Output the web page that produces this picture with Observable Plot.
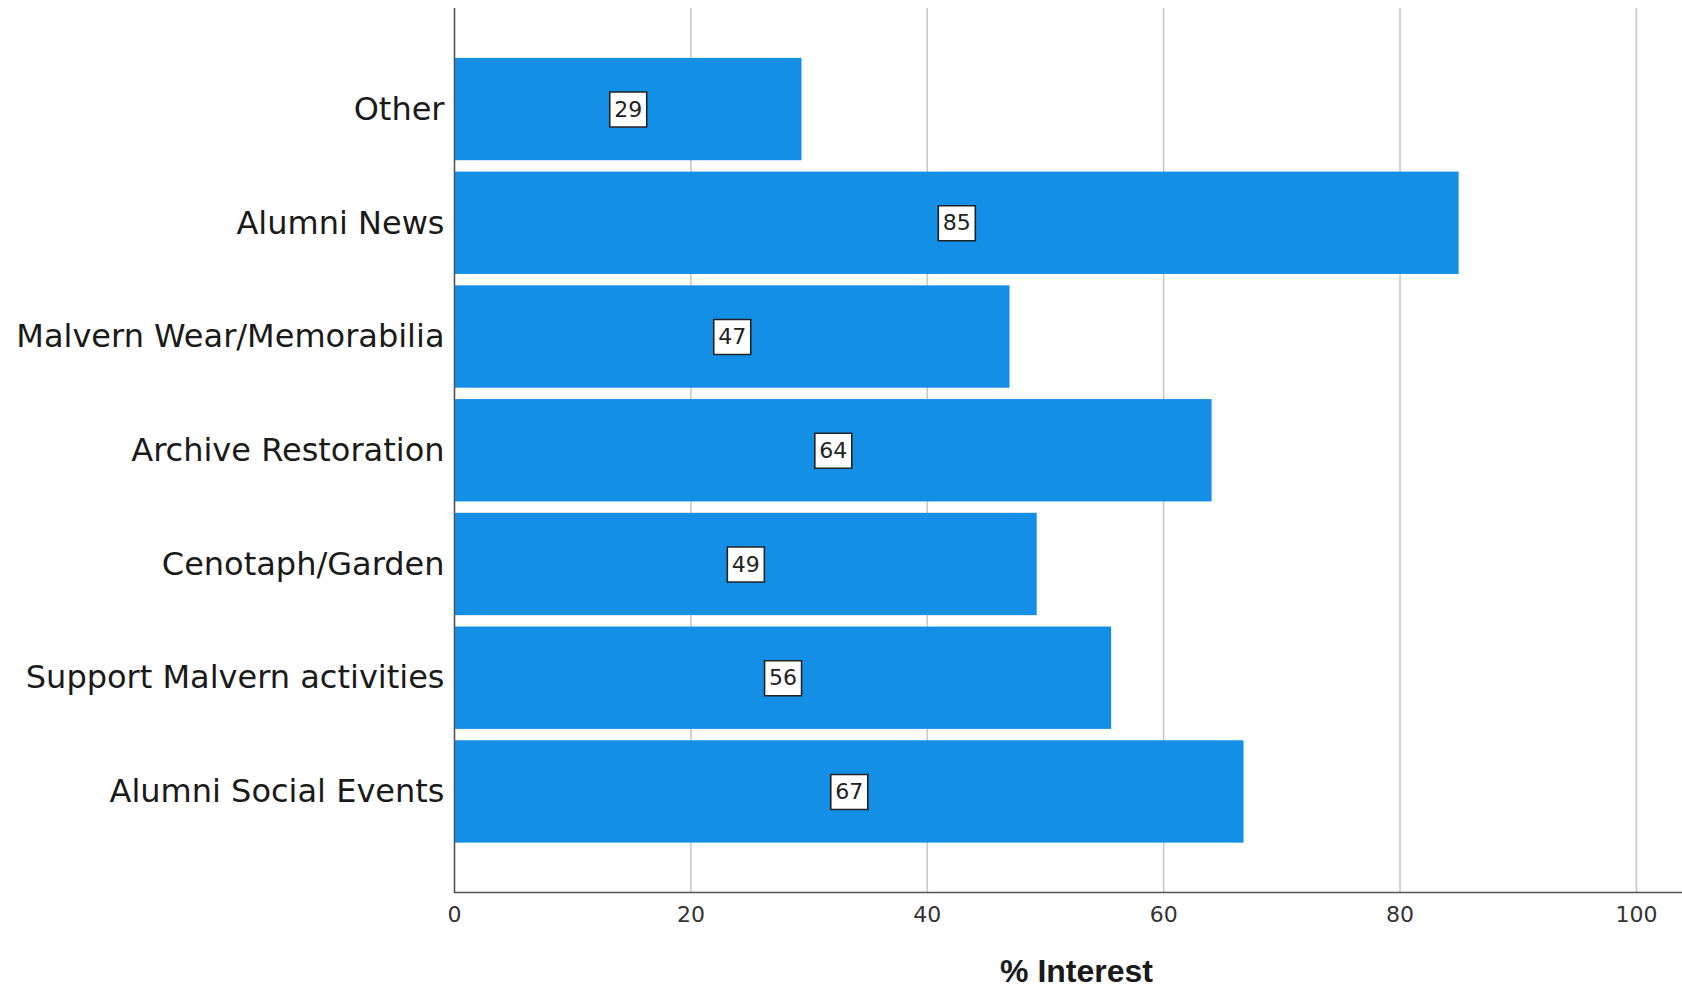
<!DOCTYPE html>
<html>
<head>
<meta charset="utf-8">
<script src="https://cdn.jsdelivr.net/npm/d3@7"></script>
<script src="https://cdn.jsdelivr.net/npm/@observablehq/plot@0.6"></script>
<style>
  html, body { margin: 0; padding: 0; background: #fff; overflow: hidden; }
</style>
</head>
<body>
<div id="chart"></div>
<script>
const categories = ["Other", "Alumni News", "Malvern Wear/Memorabilia", "Archive Restoration", "Cenotaph/Garden", "Support Malvern activities", "Alumni Social Events"];
const values = [29.4, 85.0, 47.0, 64.1, 49.3, 55.6, 66.8];
const valueLabels = ["29", "85", "47", "64", "49", "56", "67"];
const xTicks = [0, 20, 40, 60, 80, 100];
const gridTicks = [20, 40, 60, 80, 100];
const xTitle = "% Interest";

const data = categories.map((c, i) => ({category: c, value: values[i], label: valueLabels[i]}));

const boxSymbol = {
  draw(context) {
    const w = 18.5, h = 17.5;
    context.moveTo(-w, -h);
    context.lineTo(w, -h);
    context.lineTo(w, h);
    context.lineTo(-w, h);
    context.closePath();
  }
};

const chart = Plot.plot({
  width: 1682,
  height: 989,
  marginLeft: 454,
  marginRight: 0,
  marginTop: 8,
  marginBottom: 97,
  style: {fontFamily: "DejaVu Sans", background: "#fff", color: "#222"},
  x: {domain: [0, 103.9]},
  y: {domain: categories, padding: 0.1, round: false, insetTop: 38.5, insetBottom: 38},
  marks: [
    Plot.ruleX(gridTicks, {stroke: "#c9c9c9", strokeWidth: 1.6}),
    Plot.barX(data, {y: "category", x: "value", fill: "#1390e6"}),
    Plot.ruleX([0], {stroke: "#555", strokeWidth: 1.6}),
    Plot.frame({anchor: "bottom", stroke: "#555", strokeWidth: 1.6}),
    Plot.dot(data, {x: d => d.value / 2, y: "category", symbol: boxSymbol, r: 10, fill: "#fff", stroke: "#222", strokeWidth: 1.6}),
    Plot.text(data, {x: d => d.value / 2, y: "category", text: "label", fontSize: 22, fill: "#222"}),
    Plot.axisX({ticks: xTicks, tickSize: 0, tickPadding: 14, fontSize: 22, label: null, fill: "#333"}),
    Plot.axisY({tickSize: 0, tickPadding: 10, fontSize: 32, label: null, fill: "#1a1a1a"}),
    Plot.text([xTitle], {frameAnchor: "bottom", dy: 79, dx: 8, lineAnchor: "middle", fontSize: 32, fontWeight: "bold", fontFamily: "Liberation Sans", fill: "#1a1a1a"})
  ]
});

document.getElementById("chart").appendChild(chart);
</script>
</body>
</html>
